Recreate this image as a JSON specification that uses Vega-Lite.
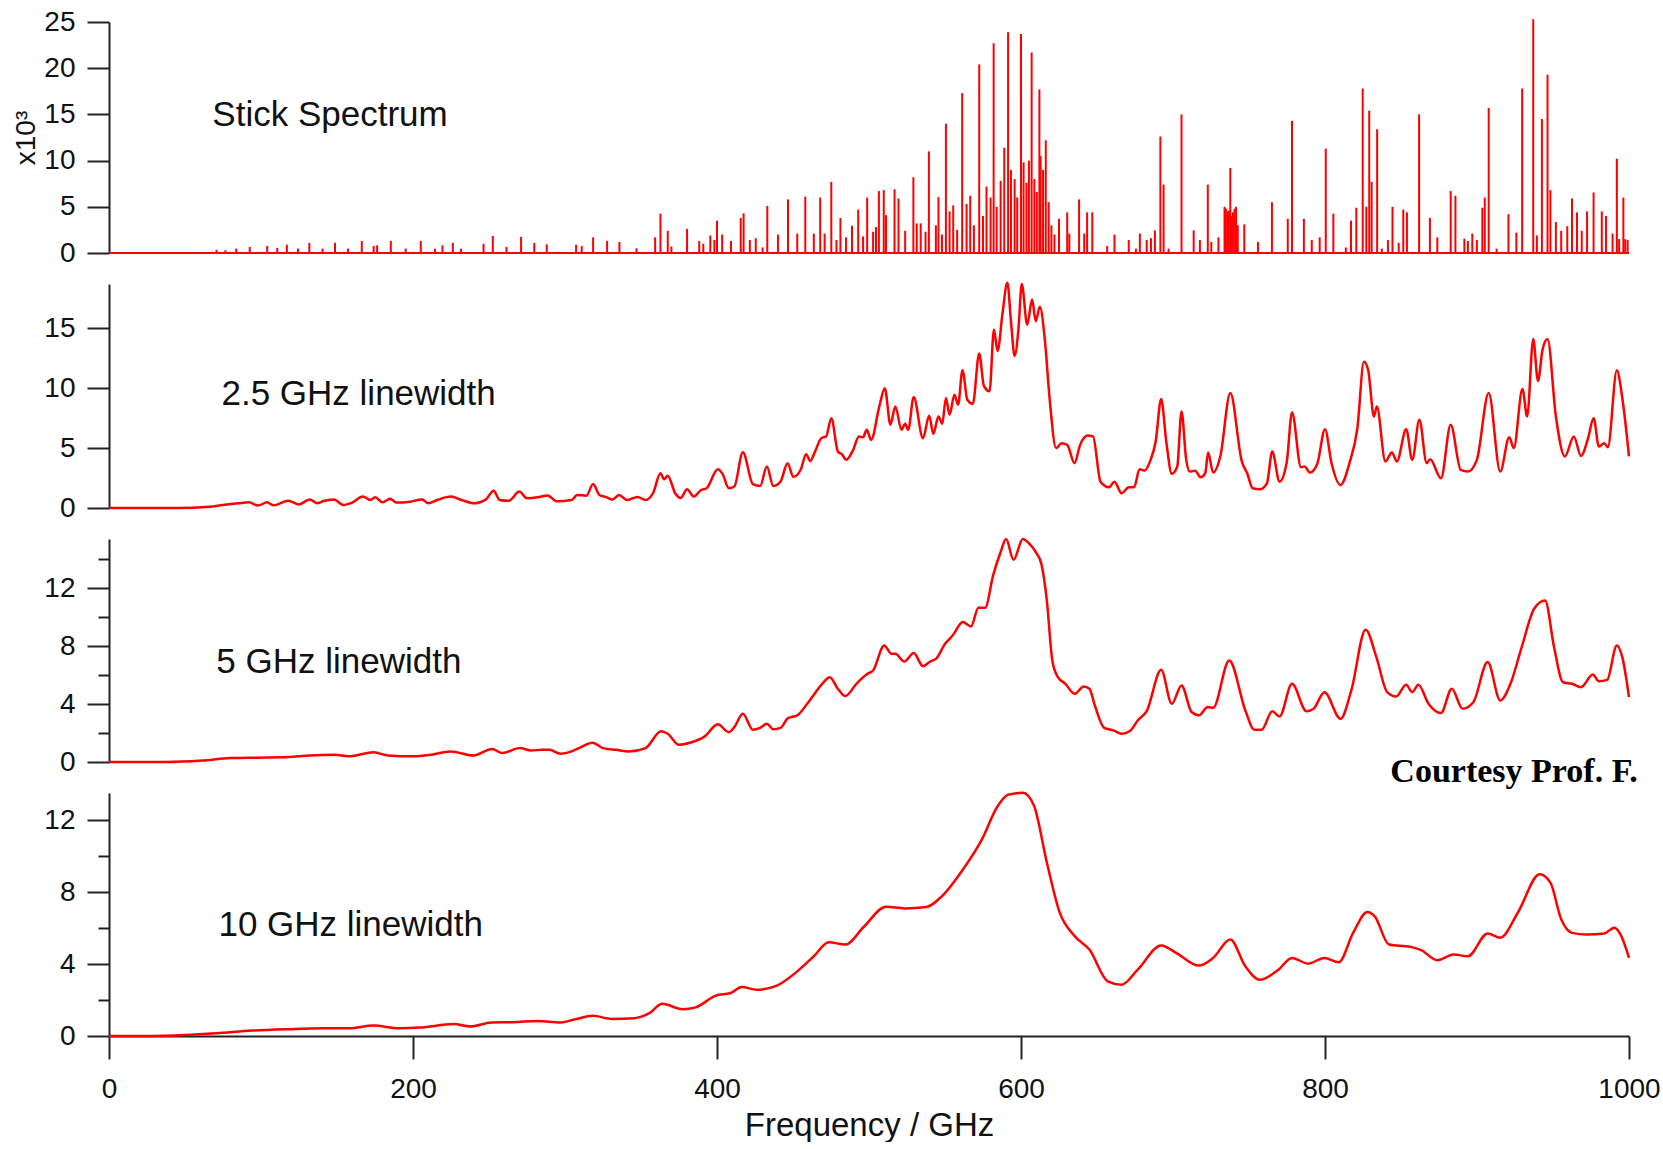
{
  "$schema": "https://vega.github.io/schema/vega-lite/v6.json",
  "background": "white",
  "padding": {"left": 12, "top": 8, "right": 0, "bottom": 0},
  "spacing": 31,
  "bounds": "flush",
  "config": {
    "view": {"stroke": null},
    "font": "Liberation Sans",
    "axis": {"grid": false, "domainColor": "#222", "domainWidth": 2, "tickColor": "#222", "tickWidth": 2, "tickSize": 22, "labelFont": "Liberation Sans", "labelFontSize": 28, "labelColor": "#111", "labelPadding": 12, "labelFlush": false, "titleFont": "Liberation Sans", "titleFontWeight": "normal", "titleColor": "#111"},
    "line": {"color": "#ff0000", "strokeWidth": 2.5, "interpolate": "monotone"}
  },
  "datasets": {
    "sticks": [
      {"f":70.7,"v":0.35},{"f":76.6,"v":0.3},{"f":83.7,"v":0.47},{"f":92.6,"v":0.65},{"f":104.1,"v":0.76},{"f":110.7,"v":0.54},{"f":117,"v":0.9},{"f":124.3,"v":0.47},{"f":131.8,"v":1.1},{"f":140.5,"v":0.47},{"f":148.7,"v":1.1},{"f":157.2,"v":0.47},{"f":166.3,"v":1.3},{"f":174.1,"v":0.76},{"f":176.4,"v":0.83},{"f":185.4,"v":1.3},{"f":195.2,"v":0.47},{"f":205.1,"v":1.3},{"f":214.5,"v":0.47},{"f":219.4,"v":0.83},{"f":226.2,"v":1.1},{"f":231.6,"v":0.47},{"f":246.4,"v":1.0},{"f":252.5,"v":1.84},{"f":261.5,"v":0.65},{"f":271.1,"v":1.73},{"f":279.8,"v":1.08},{"f":288,"v":0.94},
      {"f":307.3,"v":0.9},{"f":311,"v":0.75},{"f":318.5,"v":1.7},{"f":327.7,"v":1.3},{"f":335.8,"v":1.2},{"f":347,"v":0.5},{"f":359.3,"v":1.7},{"f":362.8,"v":4.25},{"f":367.6,"v":2.4},{"f":370,"v":0.7},{"f":380.3,"v":2.6},{"f":388.3,"v":1.3},{"f":391,"v":1.0},{"f":395.6,"v":1.9},{"f":398.3,"v":1.4},{"f":400,"v":3.5},{"f":403.4,"v":2.0},{"f":409.2,"v":1.3},{"f":415.6,"v":3.8},{"f":417.5,"v":4.3},{"f":421.6,"v":1.4},{"f":425.5,"v":1.6},{"f":430,"v":0.6},{"f":433.1,"v":5.1},{"f":440.1,"v":2.0},{"f":446.7,"v":5.8},{"f":452.8,"v":2.1},{"f":458.1,"v":6.1},{"f":463.7,"v":2.1},{"f":467.9,"v":6.0},{"f":470.8,"v":2.1},{"f":475.2,"v":7.7},{"f":478.6,"v":1.4},{"f":481.2,"v":3.8},{"f":484.9,"v":1.7},{"f":488.8,"v":2.95},{"f":492.9,"v":4.7},{"f":496.1,"v":1.8},{"f":498.8,"v":6.0},{"f":502.7,"v":2.3},{"f":504.6,"v":2.8},{"f":506.5,"v":6.7},{"f":509.7,"v":6.8},{"f":511.2,"v":4.1},{"f":516.8,"v":6.9},{"f":519.4,"v":5.9},{"f":523.8,"v":2.4},{"f":529.2,"v":8.2},{"f":531.4,"v":3.2},{"f":534,"v":3.2},{"f":537.2,"v":2.3},{"f":539.4,"v":11.0},{"f":544,"v":3.0},{"f":545.7,"v":6.05},{"f":548,"v":2.0},{"f":550.6,"v":14.0},{"f":553,"v":4.5},{"f":555.4,"v":5.15},{"f":558,"v":2.5},{"f":561.3,"v":17.3},{"f":564.2,"v":5.3},{"f":566.6,"v":6.2},{"f":569,"v":3.0},{"f":572.5,"v":20.4},{"f":575,"v":4.0},{"f":577.3,"v":7.2},{"f":580,"v":6.0},{"f":582,"v":22.7},{"f":584,"v":5.0},{"f":586.6,"v":7.8},{"f":589,"v":11.4},{"f":591.5,"v":23.9},{"f":593.4,"v":9.0},{"f":595.8,"v":8.0},{"f":597.5,"v":6.0},{"f":600,"v":23.7},{"f":601.7,"v":9.8},{"f":603.6,"v":7.6},{"f":605.2,"v":10.0},{"f":607,"v":21.7},{"f":608.8,"v":8.0},{"f":610.4,"v":6.6},{"f":612.1,"v":17.7},{"f":612.9,"v":10.5},{"f":614.5,"v":9.0},{"f":616.3,"v":12.2},{"f":618.2,"v":5.5},{"f":620,"v":3.0},{"f":622,"v":2.0},{"f":625,"v":3.7},{"f":630.4,"v":4.4},{"f":631.8,"v":2.1},{"f":638.2,"v":5.8},{"f":641.6,"v":2.1},{"f":643.5,"v":4.4},{"f":646.9,"v":4.4},{"f":656.7,"v":0.75},{"f":661.5,"v":2.0},
      {"f":670.9,"v":1.4},{"f":675.6,"v":0.47},{"f":678.2,"v":2.1},{"f":682.7,"v":1.4},{"f":685.5,"v":1.6},{"f":688.1,"v":2.45},{"f":691.7,"v":12.6},{"f":693.8,"v":7.4},{"f":697.1,"v":0.47},{"f":705.6,"v":15.0},{"f":713.6,"v":2.45},{"f":717.7,"v":1.4},{"f":722.9,"v":7.4},{"f":725.2,"v":1.2},{"f":729.9,"v":1.7},{"f":733.9,"v":5.0},{"f":734.8,"v":4.8},{"f":735.8,"v":4.5},{"f":736.7,"v":4.6},{"f":737.7,"v":9.2},{"f":738.6,"v":4.0},{"f":739.4,"v":4.4},{"f":740.5,"v":4.8},{"f":741.5,"v":5.0},{"f":742.6,"v":3.0},{"f":746.9,"v":3.1},{"f":755.9,"v":1.2},{"f":765.1,"v":5.5},{"f":775.5,"v":3.7},{"f":778.3,"v":14.3},{"f":786.1,"v":3.7},{"f":791.3,"v":1.4},{"f":796.5,"v":1.7},{"f":800.5,"v":11.3},{"f":805.5,"v":4.25},{"f":813.7,"v":0.6},{"f":817.1,"v":3.5},{"f":820.6,"v":4.9},{"f":824.8,"v":17.8},{"f":827.2,"v":5.0},{"f":829.1,"v":15.4},{"f":830.7,"v":7.7},{"f":834.3,"v":13.4},{"f":837.4,"v":0.47},{"f":841.4,"v":1.4},{"f":844.4,"v":5.0},{"f":848.5,"v":1.1},{"f":851.5,"v":4.7},{"f":853.9,"v":4.4},{"f":861.9,"v":15.0},{"f":869,"v":3.8},{"f":873.9,"v":1.7},{"f":882.7,"v":6.7},{"f":885.8,"v":6.2},{"f":891.7,"v":1.55},{"f":894,"v":1.3},{"f":896.9,"v":2.1},{"f":899.9,"v":1.4},{"f":903.5,"v":4.9},{"f":905.1,"v":6.0},{"f":907.7,"v":15.7},{"f":912.9,"v":0.47},{"f":920.7,"v":4.2},{"f":925.9,"v":2.2},{"f":929.7,"v":17.8},{"f":937,"v":25.3},{"f":939.4,"v":1.9},{"f":942.7,"v":14.5},{"f":946.4,"v":19.3},{"f":948.3,"v":6.8},{"f":951.9,"v":3.35},{"f":955.4,"v":2.4},{"f":959.4,"v":2.9},{"f":962.5,"v":5.9},{"f":965.8,"v":4.4},{"f":968.9,"v":2.4},{"f":972.4,"v":4.5},{"f":976.7,"v":6.55},{"f":982.1,"v":4.5},{"f":984.9,"v":4.0},{"f":989.2,"v":2.1},{"f":992,"v":10.2},{"f":993.5,"v":1.5},{"f":996.3,"v":6.0},{"f":997.5,"v":1.5},{"f":999.1,"v":1.4}
    ],
    "lw25": [
      {"f":0,"v":0},{"f":45,"v":0},{"f":66,"v":0.1},{"f":75,"v":0.25},{"f":85,"v":0.39},{"f":92,"v":0.47},{"f":98,"v":0.2},{"f":104,"v":0.47},{"f":108,"v":0.22},{"f":118,"v":0.6},{"f":125,"v":0.3},{"f":132,"v":0.72},{"f":137,"v":0.39},{"f":141,"v":0.58},{"f":148,"v":0.72},{"f":154,"v":0.25},{"f":160,"v":0.45},{"f":167,"v":0.95},{"f":172,"v":0.67},{"f":175,"v":0.89},{"f":180,"v":0.47},{"f":185,"v":0.78},{"f":189,"v":0.45},{"f":198,"v":0.53},{"f":206,"v":0.72},{"f":210,"v":0.39},{"f":216,"v":0.67},{"f":225,"v":0.95},{"f":232,"v":0.67},{"f":240,"v":0.39},{"f":248,"v":0.72},{"f":253,"v":1.45},{"f":257,"v":0.67},{"f":263,"v":0.6},{"f":270,"v":1.37},{"f":275,"v":0.81},{"f":282,"v":0.89},{"f":288.5,"v":1.05},{"f":294.6,"v":0.56},{"f":304.4,"v":0.67},{"f":308,"v":1.09},{"f":314.1,"v":1.03},{"f":318.5,"v":2.0},{"f":322.6,"v":1.09},{"f":327.5,"v":0.89},{"f":331.1,"v":0.7},{"f":335.5,"v":1.09},{"f":340.9,"v":0.67},{"f":347.7,"v":0.92},{"f":353,"v":0.67},{"f":357.9,"v":1.23},{"f":362.8,"v":2.9},{"f":365.2,"v":2.4},{"f":367.6,"v":2.7},{"f":372.5,"v":1.23},{"f":376.1,"v":0.84},{"f":380.3,"v":1.56},{"f":384.7,"v":0.95},{"f":389.5,"v":1.5},{"f":393.2,"v":1.65},{"f":400.5,"v":3.24},{"f":403.6,"v":2.85},{"f":407.8,"v":1.65},{"f":411.4,"v":1.79},{"f":417,"v":4.66},{"f":423.6,"v":2.0},{"f":428.4,"v":1.84},{"f":432.8,"v":3.46},{"f":437,"v":1.84},{"f":441.8,"v":2.2},{"f":446.4,"v":3.74},{"f":450.3,"v":2.6},{"f":455.2,"v":3.24},{"f":458.6,"v":4.49},{"f":461.3,"v":3.93},{"f":464.5,"v":4.72},{"f":468.6,"v":5.83},{"f":471.8,"v":5.97},{"f":475.2,"v":7.5},{"f":479.5,"v":4.72},{"f":482.5,"v":4.44},{"f":484.9,"v":4.02},{"f":489.3,"v":4.77},{"f":493.4,"v":5.97},{"f":496.1,"v":5.91},{"f":498.5,"v":6.53},{"f":501.4,"v":5.69},{"f":506.8,"v":8.48},{"f":510.4,"v":10.0},{"f":514.1,"v":6.95},{"f":517.3,"v":8.48},{"f":521.4,"v":6.53},{"f":523.8,"v":7.03},{"f":525.8,"v":6.53},{"f":529.4,"v":9.26},{"f":535.5,"v":5.83},{"f":539.6,"v":7.7},{"f":542.3,"v":6.19},{"f":545.7,"v":7.64},{"f":548.2,"v":7.03},{"f":550.6,"v":9.18},{"f":553,"v":7.78},{"f":556.2,"v":9.46},{"f":558.6,"v":8.62},{"f":561.5,"v":11.5},{"f":564.7,"v":9.04},{"f":568.3,"v":8.7},{"f":572.5,"v":12.9},{"f":575.6,"v":10.2},{"f":579.3,"v":9.74},{"f":582.2,"v":14.9},{"f":584.6,"v":13.1},{"f":587.8,"v":16.2},{"f":591,"v":18.8},{"f":593.4,"v":15.6},{"f":595.8,"v":12.7},{"f":598.3,"v":14.9},{"f":600.5,"v":18.7},{"f":604.1,"v":15.3},{"f":607.3,"v":17.4},{"f":609.7,"v":15.6},{"f":612.4,"v":16.8},{"f":615.8,"v":13.9},{"f":618.7,"v":9.32},{"f":623.1,"v":5.0},{"f":626.7,"v":5.4},{"f":630.4,"v":5.27},{"f":635.2,"v":3.74},{"f":638.9,"v":5.27},{"f":643.8,"v":6.05},{"f":647.4,"v":5.97},{"f":652.3,"v":2.2},{"f":657.9,"v":1.73},{"f":661.5,"v":2.2},{"f":666.2,"v":1.23},{"f":670.9,"v":1.73},{"f":674.4,"v":1.73},{"f":678,"v":3.24},{"f":681.1,"v":3.12},{"f":685.1,"v":3.96},{"f":688.6,"v":5.55},{"f":692.2,"v":9.09},{"f":695.7,"v":5.41},{"f":699.2,"v":2.85},{"f":702.8,"v":3.46},{"f":705.6,"v":8.06},{"f":708.7,"v":4.02},{"f":711,"v":3.04},{"f":714.6,"v":3.12},{"f":718.1,"v":2.57},{"f":721.2,"v":2.9},{"f":723.1,"v":4.63},{"f":726.4,"v":2.96},{"f":731.1,"v":4.3},{"f":737.7,"v":9.6},{"f":745.3,"v":3.88},{"f":748.8,"v":2.9},{"f":752.4,"v":1.65},{"f":757.1,"v":1.56},{"f":761.8,"v":2.06},{"f":765.3,"v":4.72},{"f":770.1,"v":2.2},{"f":774.8,"v":3.79},{"f":778.3,"v":7.98},{"f":784.2,"v":3.4},{"f":786.6,"v":3.46},{"f":790.1,"v":2.96},{"f":794.9,"v":3.68},{"f":800,"v":6.58},{"f":804.3,"v":3.74},{"f":810.2,"v":1.92},{"f":816.1,"v":3.74},{"f":821.3,"v":6.67},{"f":825.6,"v":12.2},{"f":828.4,"v":11.5},{"f":832.2,"v":7.64},{"f":834.1,"v":8.48},{"f":839.7,"v":3.88},{"f":844,"v":4.63},{"f":847.3,"v":3.88},{"f":853.4,"v":6.58},{"f":857.4,"v":4.02},{"f":862.1,"v":7.36},{"f":866.9,"v":3.74},{"f":869.2,"v":4.07},{"f":876.3,"v":2.48},{"f":882.7,"v":6.95},{"f":889.3,"v":3.18},{"f":894,"v":3.04},{"f":899.9,"v":4.02},{"f":907.7,"v":9.6},{"f":915.3,"v":3.04},{"f":921.2,"v":5.91},{"f":924.2,"v":5.0},{"f":929.9,"v":9.93},{"f":933,"v":7.64},{"f":937,"v":14.1},{"f":940.1,"v":10.6},{"f":943.1,"v":13.2},{"f":946.4,"v":14.1},{"f":951.9,"v":7.64},{"f":957.8,"v":4.3},{"f":963.7,"v":5.97},{"f":968.4,"v":4.35},{"f":973.1,"v":5.83},{"f":976.7,"v":7.5},{"f":980.2,"v":5.13},{"f":983.7,"v":5.41},{"f":986.1,"v":5.08},{"f":992,"v":11.5},{"f":995.6,"v":9.18},{"f":1000,"v":4.3}
    ],
    "lw5": [
      {"f":0,"v":0},{"f":37.9,"v":0},{"f":61.3,"v":0.1},{"f":80.1,"v":0.27},{"f":99,"v":0.3},{"f":117.7,"v":0.34},{"f":131.8,"v":0.45},{"f":148.3,"v":0.5},{"f":157.7,"v":0.39},{"f":174.1,"v":0.68},{"f":183.5,"v":0.45},{"f":200,"v":0.39},{"f":211.7,"v":0.5},{"f":224.6,"v":0.73},{"f":239.9,"v":0.45},{"f":252.1,"v":0.9},{"f":258.7,"v":0.62},{"f":270.4,"v":0.96},{"f":277.5,"v":0.8},{"f":284.9,"v":0.84},{"f":289.8,"v":0.84},{"f":297.1,"v":0.57},{"f":304.4,"v":0.73},{"f":309.2,"v":0.96},{"f":318.2,"v":1.33},{"f":325,"v":0.96},{"f":333.6,"v":0.84},{"f":342.1,"v":0.73},{"f":353,"v":0.96},{"f":363.2,"v":2.13},{"f":367.6,"v":1.95},{"f":374.9,"v":1.19},{"f":382.2,"v":1.33},{"f":392,"v":1.77},{"f":400.5,"v":2.6},{"f":407.8,"v":2.06},{"f":411.4,"v":2.41},{"f":417,"v":3.33},{"f":423.6,"v":2.23},{"f":428.4,"v":2.36},{"f":432.8,"v":2.64},{"f":437,"v":2.27},{"f":441.8,"v":2.36},{"f":446.7,"v":3.03},{"f":452.8,"v":3.22},{"f":460.1,"v":4.13},{"f":469.8,"v":5.47},{"f":474.2,"v":5.86},{"f":479.5,"v":5.06},{"f":484.4,"v":4.55},{"f":491.7,"v":5.4},{"f":499,"v":6.09},{"f":502.7,"v":6.32},{"f":510,"v":8.05},{"f":514.8,"v":7.47},{"f":517.3,"v":7.47},{"f":523.3,"v":6.94},{"f":529.4,"v":7.52},{"f":535.5,"v":6.62},{"f":540.4,"v":6.94},{"f":544,"v":7.12},{"f":550.1,"v":8.16},{"f":555,"v":8.74},{"f":561.8,"v":9.66},{"f":567.1,"v":9.36},{"f":572,"v":10.65},{"f":576.4,"v":10.65},{"f":581.7,"v":12.9},{"f":586.6,"v":14.5},{"f":590.2,"v":15.4},{"f":595.1,"v":13.96},{"f":601.2,"v":15.4},{"f":605.6,"v":15.06},{"f":609.7,"v":14.5},{"f":613.4,"v":13.68},{"f":617,"v":11.15},{"f":620.6,"v":7.01},{"f":624.3,"v":5.86},{"f":629.2,"v":5.4},{"f":635.3,"v":4.71},{"f":641.3,"v":5.22},{"f":645,"v":5.06},{"f":648.6,"v":3.9},{"f":654.7,"v":2.36},{"f":660.8,"v":2.18},{"f":666.2,"v":1.95},{"f":672.1,"v":2.18},{"f":676.8,"v":2.87},{"f":682.7,"v":3.51},{"f":692.2,"v":6.37},{"f":699.2,"v":4.02},{"f":705.6,"v":5.29},{"f":712.2,"v":3.45},{"f":717,"v":3.22},{"f":722.9,"v":3.79},{"f":726.4,"v":3.74},{"f":737,"v":7.01},{"f":747.6,"v":3.56},{"f":753.5,"v":2.23},{"f":758.3,"v":2.23},{"f":765.3,"v":3.51},{"f":770.1,"v":3.15},{"f":778.3,"v":5.4},{"f":787.8,"v":3.51},{"f":792.5,"v":3.68},{"f":799.6,"v":4.82},{"f":810.2,"v":2.98},{"f":817.3,"v":4.94},{"f":826.7,"v":9.13},{"f":833.8,"v":7.24},{"f":840.9,"v":4.82},{"f":846.8,"v":4.52},{"f":853.4,"v":5.33},{"f":857.4,"v":4.82},{"f":861.4,"v":5.33},{"f":868.1,"v":4.02},{"f":876.3,"v":3.38},{"f":883.4,"v":5.06},{"f":890.5,"v":3.68},{"f":897.6,"v":4.13},{"f":907,"v":6.9},{"f":915.3,"v":4.25},{"f":922.4,"v":5.51},{"f":929.4,"v":7.93},{"f":937.7,"v":10.6},{"f":944.8,"v":11.15},{"f":950.7,"v":7.93},{"f":956.6,"v":5.51},{"f":962.5,"v":5.4},{"f":968.4,"v":5.17},{"f":976.2,"v":6.04},{"f":980.2,"v":5.58},{"f":985.6,"v":5.67},{"f":992,"v":8.05},{"f":995.6,"v":7.24},{"f":1000,"v":4.48}
    ],
    "lw10": [
      {"f":0,"v":0},{"f":28.5,"v":0},{"f":49.6,"v":0.05},{"f":70.7,"v":0.15},{"f":94.2,"v":0.3},{"f":117.7,"v":0.38},{"f":141.2,"v":0.43},{"f":157.7,"v":0.43},{"f":174.1,"v":0.58},{"f":190.5,"v":0.43},{"f":204.6,"v":0.47},{"f":227,"v":0.66},{"f":237.5,"v":0.53},{"f":251.6,"v":0.75},{"f":265.7,"v":0.77},{"f":282.2,"v":0.84},{"f":297.1,"v":0.75},{"f":306.8,"v":0.93},{"f":318.2,"v":1.12},{"f":331.1,"v":0.95},{"f":345.7,"v":0.99},{"f":355.5,"v":1.27},{"f":364,"v":1.79},{"f":377.4,"v":1.49},{"f":385.9,"v":1.59},{"f":399.2,"v":2.24},{"f":409,"v":2.39},{"f":416.3,"v":2.72},{"f":426,"v":2.57},{"f":439.4,"v":2.8},{"f":452.8,"v":3.59},{"f":463.7,"v":4.43},{"f":473.5,"v":5.21},{"f":484.4,"v":5.08},{"f":496.6,"v":6.07},{"f":511.2,"v":7.18},{"f":523.3,"v":7.09},{"f":537.9,"v":7.17},{"f":547.7,"v":7.74},{"f":561.1,"v":9.17},{"f":574.4,"v":10.94},{"f":584.2,"v":12.71},{"f":591.5,"v":13.4},{"f":601.2,"v":13.51},{"f":608.5,"v":12.8},{"f":617,"v":9.64},{"f":625.5,"v":6.85},{"f":635.3,"v":5.55},{"f":645,"v":4.8},{"f":657.1,"v":3.04},{"f":666.2,"v":2.85},{"f":676.8,"v":3.69},{"f":692.2,"v":5.03},{"f":702.8,"v":4.58},{"f":717,"v":3.91},{"f":726.4,"v":4.34},{"f":737.7,"v":5.36},{"f":747.6,"v":3.87},{"f":757.1,"v":3.13},{"f":768.9,"v":3.65},{"f":778.3,"v":4.34},{"f":788.9,"v":4.02},{"f":799.6,"v":4.34},{"f":809,"v":4.1},{"f":818.5,"v":5.73},{"f":827.9,"v":6.89},{"f":832.6,"v":6.66},{"f":842.1,"v":5.08},{"f":856.2,"v":4.95},{"f":863.3,"v":4.77},{"f":873.9,"v":4.21},{"f":884.6,"v":4.53},{"f":894,"v":4.43},{"f":907,"v":5.7},{"f":915.3,"v":5.46},{"f":927.1,"v":6.89},{"f":941.2,"v":8.99},{"f":948.3,"v":8.52},{"f":955.4,"v":6.48},{"f":962.5,"v":5.73},{"f":971.9,"v":5.64},{"f":983.7,"v":5.7},{"f":990.4,"v":6.01},{"f":994.4,"v":5.64},{"f":1000,"v":4.34}
    ]
  },
  "vconcat": [
    {
      "width": 1520, "height": 231,
      "encoding": {
        "x": {"field": "f", "type": "quantitative", "scale": {"domain": [0, 1000], "nice": false}, "axis": null},
        "y": {"field": "v", "type": "quantitative", "scale": {"domain": [0, 25], "nice": false}, "axis": {"values": [0, 5, 10, 15, 20, 25], "title": "x10³", "titleFontSize": 28, "titlePadding": 3}}
      },
      "layer": [
        {"data": {"values": [{"f": 0, "f2": 1000, "v": 0}]}, "mark": {"type": "rule", "color": "#ff0000", "strokeWidth": 2}, "encoding": {"x2": {"field": "f2"}}},
        {"data": {"name": "sticks"}, "mark": {"type": "rule", "color": "#ff0000", "strokeWidth": 2}, "encoding": {"y2": {"datum": 0}}},
        {"data": {"values": [{"f": 68, "v": 14.9, "t": "Stick Spectrum"}]}, "mark": {"type": "text", "align": "left", "baseline": "middle", "fontSize": 35, "color": "#111"}, "encoding": {"text": {"field": "t"}}}
      ]
    },
    {
      "width": 1520, "height": 224,
      "encoding": {
        "x": {"field": "f", "type": "quantitative", "scale": {"domain": [0, 1000], "nice": false}, "axis": null},
        "y": {"field": "v", "type": "quantitative", "scale": {"domain": [0, 18.7], "nice": false}, "axis": {"values": [0, 5, 10, 15], "title": null}}
      },
      "layer": [
        {"data": {"name": "lw25"}, "mark": {"type": "line"}},
        {"data": {"values": [{"f": 74, "v": 9.5, "t": "2.5 GHz linewidth"}]}, "mark": {"type": "text", "align": "left", "baseline": "middle", "fontSize": 35, "color": "#111"}, "encoding": {"text": {"field": "t"}}}
      ]
    },
    {
      "width": 1520, "height": 223,
      "encoding": {
        "x": {"field": "f", "type": "quantitative", "scale": {"domain": [0, 1000], "nice": false}, "axis": null},
        "y": {"field": "v", "type": "quantitative", "scale": {"domain": [0, 15.4], "nice": false}, "axis": {"values": [0, 2, 4, 6, 8, 10, 12, 14], "title": null, "labelExpr": "datum.value % 4 === 0 ? datum.label : ''", "tickSize": {"condition": {"test": "datum.value % 4 !== 0", "value": 11}, "value": 22}}}
      },
      "layer": [
        {"data": {"name": "lw5"}, "mark": {"type": "line"}},
        {"data": {"values": [{"f": 70.6, "v": 6.88, "t": "5 GHz linewidth"}]}, "mark": {"type": "text", "align": "left", "baseline": "middle", "fontSize": 35, "color": "#111"}, "encoding": {"text": {"field": "t"}}},
        {"data": {"values": [{"f": 843, "v": -0.72, "t": "Courtesy Prof. F."}]}, "mark": {"type": "text", "align": "left", "baseline": "middle", "fontSize": 34, "font": "Liberation Serif", "fontWeight": "bold", "color": "#000"}, "encoding": {"text": {"field": "t"}}}
      ]
    },
    {
      "width": 1520, "height": 243,
      "encoding": {
        "x": {"field": "f", "type": "quantitative", "scale": {"domain": [0, 1000], "nice": false}, "axis": {"values": [0, 200, 400, 600, 800, 1000], "format": "d", "title": "Frequency / GHz", "titleFontSize": 33, "titlePadding": 6, "labelPadding": 16, "tickSize": 23}},
        "y": {"field": "v", "type": "quantitative", "scale": {"domain": [0, 13.5], "nice": false}, "axis": {"values": [0, 2, 4, 6, 8, 10, 12], "title": null, "labelExpr": "datum.value % 4 === 0 ? datum.label : ''", "tickSize": {"condition": {"test": "datum.value % 4 !== 0", "value": 11}, "value": 22}}}
      },
      "layer": [
        {"data": {"name": "lw10"}, "mark": {"type": "line"}},
        {"data": {"values": [{"f": 72, "v": 6.14, "t": "10 GHz linewidth"}]}, "mark": {"type": "text", "align": "left", "baseline": "middle", "fontSize": 35, "color": "#111"}, "encoding": {"text": {"field": "t"}}}
      ]
    }
  ]
}
